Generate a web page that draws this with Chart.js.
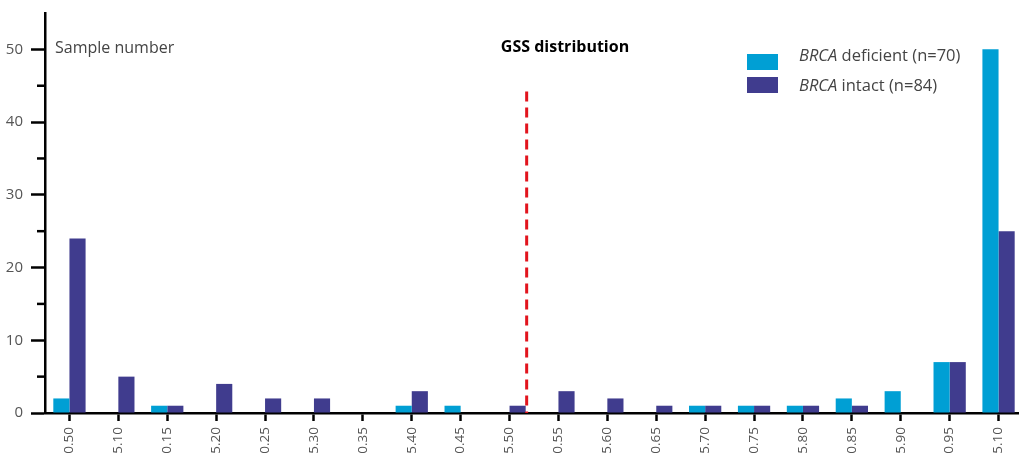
<!DOCTYPE html>
<html>
<head>
<meta charset="utf-8">
<script src="https://cdn.jsdelivr.net/npm/chart.js@4.4.0/dist/chart.umd.min.js"></script>
<style>
  html, body { margin: 0; padding: 0; background: #fff; overflow: hidden; }
  #wrap { width: 1023px; height: 456px; }
</style>
</head>
<body>
<div id="wrap"><canvas id="gssChart"></canvas></div>
<script>
// GSS bins (tick labels as they show under the axis)
const binLabels = ['0.50', '5.10', '10.15', '5.20', '0.25', '5.30', '0.35', '5.40', '0.45', '5.50',
                   '0.55', '5.60', '0.65', '5.70', '0.75', '5.80', '0.85', '5.90', '0.95', '5.10'];

// sample counts per bin
const deficientCounts = [2, 0, 1, 0, 0, 0, 0, 1, 1, 0, 0, 0, 0, 1, 1, 1, 2, 3, 7, 50];
const intactCounts    = [24, 5, 1, 4, 2, 2, 0, 3, 0, 1, 3, 2, 1, 1, 1, 1, 1, 0, 7, 25];

// legend text: italic gene name + rest
const seriesNames = [['BRCA', ' deficient (n=70)'], ['BRCA', ' intact (n=84)']];

// dashed cut-off line, in category-index units, and its top in counts
const cutoffIndex = 9.35;
const cutoffTop = 44.2;

const yMax = 55;
const yMajorTicks = [0, 10, 20, 30, 40, 50];
const yMinorTicks = [5, 15, 25, 35, 45];

const textFont = '"Open Sans", "Noto Sans", sans-serif';

// extra drawing: minor ticks, dashed line, titles, legend
const extras = {
    id: 'extras',
    afterDraw(chart) {
        const ctx = chart.ctx;
        const x = chart.scales.x;
        const y = chart.scales.y;
        ctx.save();

        // minor y ticks
        ctx.strokeStyle = '#000';
        ctx.lineWidth = 2.5;
        yMinorTicks.forEach(v => {
            const py = y.getPixelForValue(v);
            ctx.beginPath();
            ctx.moveTo(x.left - 8, py);
            ctx.lineTo(x.left, py);
            ctx.stroke();
        });

        // red dashed line
        const c0 = x.getPixelForValue(Math.floor(cutoffIndex));
        const c1 = x.getPixelForValue(Math.floor(cutoffIndex) + 1);
        const cx = c0 + (c1 - c0) * (cutoffIndex - Math.floor(cutoffIndex));
        ctx.strokeStyle = '#e2141d';
        ctx.lineWidth = 3;
        ctx.setLineDash([10, 6]);
        ctx.beginPath();
        ctx.moveTo(cx, y.getPixelForValue(cutoffTop));
        ctx.lineTo(cx, y.getPixelForValue(0));
        ctx.stroke();
        ctx.setLineDash([]);

        // texts
        ctx.fillStyle = '#444';
        ctx.textBaseline = 'middle';
        ctx.textAlign = 'left';
        ctx.font = '16px ' + textFont;
        ctx.fillText('Sample number', x.left + 10, 48);

        ctx.fillStyle = '#000';
        ctx.font = 'bold 16px ' + textFont;
        ctx.textAlign = 'center';
        ctx.fillText('GSS distribution', 565, 47);

        // legend
        const rows = [56, 86];
        chart.data.datasets.forEach((ds, i) => {
            const ty = rows[i];
            ctx.fillStyle = ds.backgroundColor;
            ctx.fillRect(747, ty - 8 + (i === 0 ? 6 : -1), 31, 16);
            ctx.fillStyle = '#444';
            ctx.textAlign = 'left';
            ctx.font = 'italic 16.5px ' + textFont;
            ctx.fillText(seriesNames[i][0], 799, ty);
            const w = ctx.measureText(seriesNames[i][0]).width;
            ctx.font = '16.5px ' + textFont;
            ctx.fillText(seriesNames[i][1], 799 + w, ty);
        });

        ctx.restore();
    }
};

new Chart(document.getElementById('gssChart'), {
    type: 'bar',
    data: {
        labels: binLabels,
        datasets: [{
            label: seriesNames[0].join(''),
            data: deficientCounts,
            backgroundColor: '#009fd4',
            barPercentage: 1.0,
            categoryPercentage: 0.66
        }, {
            label: seriesNames[1].join(''),
            data: intactCounts,
            backgroundColor: '#403c8e',
            barPercentage: 1.0,
            categoryPercentage: 0.66
        }]
    },
    options: {
        responsive: true,
        maintainAspectRatio: false,
        animation: false,
        layout: { padding: { top: 13, left: 0, right: 0, bottom: 0 } },
        plugins: {
            legend: { display: false },
            tooltip: { enabled: false }
        },
        scales: {
            x: {
                grid: { display: true, drawOnChartArea: false, offset: false, tickLength: 8, tickColor: '#000', tickWidth: 2.5 },
                border: { color: '#000', width: 2.5 },
                ticks: {
                    autoSkip: false,
                    maxRotation: 90,
                    minRotation: 90,
                    padding: 6,
                    color: '#555',
                    font: { family: textFont, size: 13.5 }
                },
                afterFit(scale) {
                    scale.height = 43;
                    scale.paddingLeft = 0;
                    scale.paddingRight = 0;
                }
            },
            y: {
                min: 0,
                max: yMax,
                grid: { display: true, drawOnChartArea: false, tickLength: 14, tickColor: '#000', tickWidth: 2.5 },
                border: { color: '#000', width: 2.5 },
                afterBuildTicks(scale) {
                    scale.ticks = yMajorTicks.map(v => ({ value: v }));
                },
                ticks: {
                    padding: 8,
                    color: '#555',
                    font: { family: textFont, size: 15, lineHeight: 1 }
                },
                afterFit(scale) {
                    scale.width = 45;
                    scale.paddingTop = 0;
                    scale.paddingBottom = 0;
                }
            }
        }
    },
    plugins: [extras]
});
</script>
</body>
</html>
